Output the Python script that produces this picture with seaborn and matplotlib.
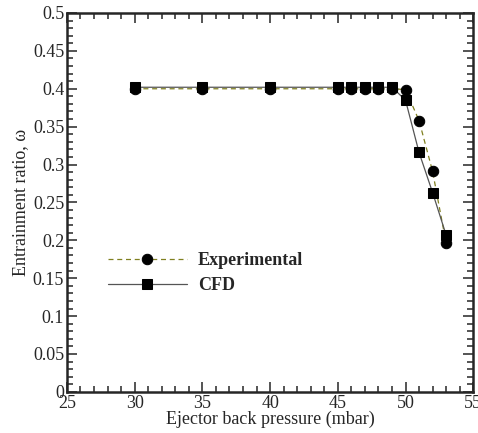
import numpy as np
import pandas as pd
import matplotlib
matplotlib.use("Agg")
import matplotlib.pyplot as plt
import seaborn as sns
from matplotlib.ticker import MultipleLocator, FormatStrFormatter

pressure = [30, 35, 40, 45, 46, 47, 48, 49, 50, 51, 52, 53]
experimental = [0.400, 0.400, 0.400, 0.400, 0.400, 0.400, 0.400, 0.400, 0.399, 0.358, 0.291, 0.196]
cfd = [0.402, 0.402, 0.402, 0.402, 0.402, 0.402, 0.402, 0.402, 0.385, 0.316, 0.263, 0.207]

sns.set_style("ticks")
plt.rcParams['font.family'] = ['Liberation Serif', 'DejaVu Serif']

fig = plt.figure(figsize=(4.78, 4.33), dpi=100)
ax = fig.add_axes([0.140, 0.095, 0.850, 0.875])

df = pd.DataFrame({'p': pressure, 'exp': experimental, 'cfd': cfd})

sns.lineplot(data=df, x='p', y='exp', ax=ax, color='#808020', linestyle=(0, (4, 3)),
             linewidth=0.9, marker='o', markersize=7.5, markerfacecolor='black',
             markeredgecolor='black', label='Experimental')
sns.lineplot(data=df, x='p', y='cfd', ax=ax, color='#555555', linestyle='-',
             linewidth=0.9, marker='s', markersize=7.5, markerfacecolor='black',
             markeredgecolor='black', label='CFD')

ax.set_xlim(25, 55)
ax.set_ylim(0, 0.5)
ax.xaxis.set_major_locator(MultipleLocator(5))
ax.xaxis.set_minor_locator(MultipleLocator(1))
ax.yaxis.set_major_locator(MultipleLocator(0.05))
ax.yaxis.set_minor_locator(MultipleLocator(0.01))
ax.yaxis.set_major_formatter(FormatStrFormatter('%g'))
ax.tick_params(which='both', direction='in', top=True, right=True, labelsize=13, width=1.1)
ax.tick_params(which='major', length=7, pad=2)
ax.tick_params(which='minor', length=4)
for s in ax.spines.values():
    s.set_linewidth(1.8)
    s.set_visible(True)

ax.set_xlabel('Ejector back pressure (mbar)', fontsize=13, labelpad=-1)
ax.set_ylabel('Entrainment ratio, ω', fontsize=13, labelpad=3)

leg = ax.legend(loc='lower left', bbox_to_anchor=(0.06, 0.215), frameon=False,
                handlelength=4.4, handletextpad=0.6,
                prop={'weight': 'bold', 'size': 13}, labelspacing=0.45)

fig.savefig('out.png', dpi=100)
